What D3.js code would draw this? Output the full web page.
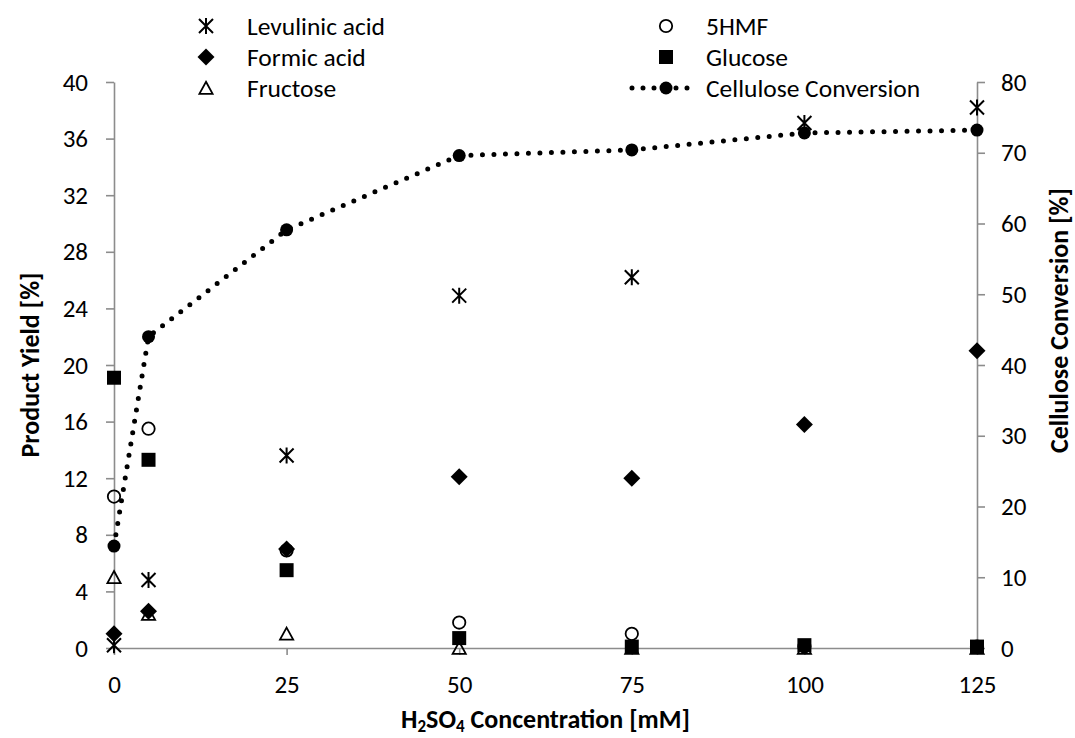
<!DOCTYPE html>
<html>
<head>
<meta charset="utf-8">
<script src="https://cdn.jsdelivr.net/npm/d3@7"></script>
<style>
  html, body { margin: 0; padding: 0; background: #fff; }
  svg { display: block; font-family: Calibri, Carlito, Lato, "Open Sans", sans-serif; }
</style>
</head>
<body>
<svg id="chart" width="1075" height="738"></svg>
<script>
// H2SO4 concentration (mM)
const concentration = [0, 5, 25, 50, 75, 100, 125];

// Product yields (%) on the left axis
const levulinicAcid = [0.2, 4.8, 13.6, 24.9, 26.2, 37.1, 38.2];
const hmf5         = [10.7, 15.5, 6.9, 1.8, 1.0, 0.1, 0.1];
const formicAcid   = [1.0, 2.6, 7.0, 12.1, 12.0, 15.8, 21.0];
const glucose      = [19.1, 13.3, 5.5, 0.7, 0.1, 0.2, 0.1];
const fructose     = [5.0, 2.4, 1.0, 0.0, 0.0, 0.0, 0.0];

// Cellulose conversion (%) on the right axis
const celluloseConversion = [14.4, 44.0, 59.1, 69.6, 70.4, 72.8, 73.2];

// Axis ticks
const xTicks = [0, 25, 50, 75, 100, 125];
const yLeftTicks = [0, 4, 8, 12, 16, 20, 24, 28, 32, 36, 40];
const yRightTicks = [0, 10, 20, 30, 40, 50, 60, 70, 80];

const svg = d3.select("#chart");
const plot = { left: 114, right: 977, top: 82, bottom: 648 };
const axisColor = "#8c8c8c";
const fontSize = 25;
const titleFontSize = 26;
const legendFontSize = 25.5;

const x = d3.scaleLinear().domain([0, 125]).range([plot.left, plot.right]);
const yL = d3.scaleLinear().domain([0, 40]).range([plot.bottom, plot.top]);
const yR = d3.scaleLinear().domain([0, 80]).range([plot.bottom, plot.top]);

// ---- axes ----
function styleAxis(g) {
  g.select(".domain").attr("stroke", axisColor).attr("stroke-width", 1.6);
  g.selectAll(".tick line").attr("stroke", axisColor).attr("stroke-width", 1.6);
  g.selectAll(".tick text").attr("fill", "#000").style("font-size", fontSize + "px")
    .style("font-family", "Calibri, Carlito, Lato, 'Open Sans', sans-serif");
}

svg.append("g")
  .attr("transform", `translate(0,${plot.bottom})`)
  .call(d3.axisBottom(x).tickValues(xTicks).tickSize(7).tickSizeOuter(0).tickPadding(20))
  .call(styleAxis);

svg.append("g")
  .attr("transform", `translate(${plot.left},0)`)
  .call(d3.axisLeft(yL).tickValues(yLeftTicks).tickSize(8).tickSizeOuter(0).tickPadding(18))
  .call(styleAxis);

svg.append("g")
  .attr("transform", `translate(${plot.right},0)`)
  .call(d3.axisRight(yR).tickValues(yRightTicks).tickSize(8).tickSizeOuter(0).tickPadding(16))
  .call(styleAxis);

// ---- axis titles ----
const xTitle = svg.append("text")
  .attr("x", (plot.left + plot.right) / 2)
  .attr("y", 728)
  .attr("text-anchor", "middle")
  .style("font-size", titleFontSize + "px").style("font-weight", "bold");
xTitle.append("tspan").text("H");
xTitle.append("tspan").text("2").attr("dy", 4).style("font-size", "17px");
xTitle.append("tspan").text("SO").attr("dy", -4);
xTitle.append("tspan").text("4").attr("dy", 4).style("font-size", "17px");
xTitle.append("tspan").text(" Concentration [mM]").attr("dy", -4);

svg.append("text")
  .attr("transform", `translate(39,${(plot.top + plot.bottom) / 2}) rotate(-90)`)
  .attr("text-anchor", "middle")
  .style("font-size", titleFontSize + "px").style("font-weight", "bold")
  .text("Product Yield [%]");

svg.append("text")
  .attr("transform", `translate(1068,188) rotate(-90)`)
  .attr("text-anchor", "end")
  .style("font-size", titleFontSize + "px").style("font-weight", "bold")
  .text("Cellulose Conversion [%]");

// ---- marker shapes ----
const asteriskPath = "M-7,-7L7,7M-7,7L7,-7M0,-8L0,8";
function drawMarker(g, kind) {
  if (kind === "star") {
    g.append("path").attr("d", asteriskPath).attr("stroke", "#000").attr("stroke-width", 2).attr("fill", "none");
  } else if (kind === "circle") {
    g.append("circle").attr("r", 6.2).attr("fill", "none").attr("stroke", "#000").attr("stroke-width", 1.8);
  } else if (kind === "diamond") {
    g.append("path").attr("d", d3.symbol(d3.symbolSquare, 144)()).attr("transform", "rotate(45)").attr("fill", "#000");
  } else if (kind === "square") {
    g.append("path").attr("d", d3.symbol(d3.symbolSquare, 196)()).attr("fill", "#000");
  } else if (kind === "triangle") {
    g.append("path").attr("d", "M0,-6.2L6.6,5.8L-6.6,5.8Z").attr("fill", "none").attr("stroke", "#000").attr("stroke-width", 1.8);
  } else if (kind === "blob") {
    g.append("circle").attr("r", 6.5).attr("fill", "#000");
  }
}

// ---- scatter series ----
const series = [
  { name: "Levulinic acid", values: levulinicAcid, kind: "star" },
  { name: "5HMF", values: hmf5, kind: "circle" },
  { name: "Formic acid", values: formicAcid, kind: "diamond" },
  { name: "Glucose", values: glucose, kind: "square" },
  { name: "Fructose", values: fructose, kind: "triangle" }
];

series.forEach(s => {
  const g = svg.append("g").attr("class", "series");
  s.values.forEach((v, i) => {
    const m = g.append("g").attr("transform", `translate(${x(concentration[i])},${yL(v)})`);
    drawMarker(m, s.kind);
  });
});

// ---- cellulose conversion line (right axis) ----
const convPts = concentration.map((c, i) => [c, celluloseConversion[i]]);
const line = d3.line().x(d => x(d[0])).y(d => yR(d[1]));
svg.append("path")
  .attr("d", line(convPts))
  .attr("fill", "none")
  .attr("stroke", "#000")
  .attr("stroke-width", 5)
  .attr("stroke-linecap", "round")
  .attr("stroke-dasharray", "0 11.5");
convPts.forEach(d => {
  const m = svg.append("g").attr("transform", `translate(${x(d[0])},${yR(d[1])})`);
  drawMarker(m, "blob");
});

// ---- legend ----
const legendItems = [
  { name: "Levulinic acid", kind: "star", col: 0, row: 0 },
  { name: "5HMF", kind: "circle", col: 1, row: 0 },
  { name: "Formic acid", kind: "diamond", col: 0, row: 1 },
  { name: "Glucose", kind: "square", col: 1, row: 1 },
  { name: "Fructose", kind: "triangle", col: 0, row: 2 },
  { name: "Cellulose Conversion", kind: "line", col: 1, row: 2 }
];
const legendCols = [{ marker: 206, text: 247 }, { marker: 666, text: 706 }];
const legendRows = [26, 57, 88];

legendItems.forEach(item => {
  const cx = legendCols[item.col].marker;
  const cy = legendRows[item.row];
  const g = svg.append("g").attr("transform", `translate(${cx},${cy})`);
  if (item.kind === "line") {
    g.append("line").attr("x1", -34).attr("x2", 27).attr("y1", 0).attr("y2", 0)
      .attr("stroke", "#000").attr("stroke-width", 5).attr("stroke-linecap", "round")
      .attr("stroke-dasharray", "0 11");
    drawMarker(g, "blob");
  } else {
    drawMarker(g, item.kind);
  }
  svg.append("text")
    .attr("x", legendCols[item.col].text)
    .attr("y", cy)
    .attr("dy", "0.35em")
    .style("font-size", legendFontSize + "px")
    .text(item.name);
});
</script>
</body>
</html>
